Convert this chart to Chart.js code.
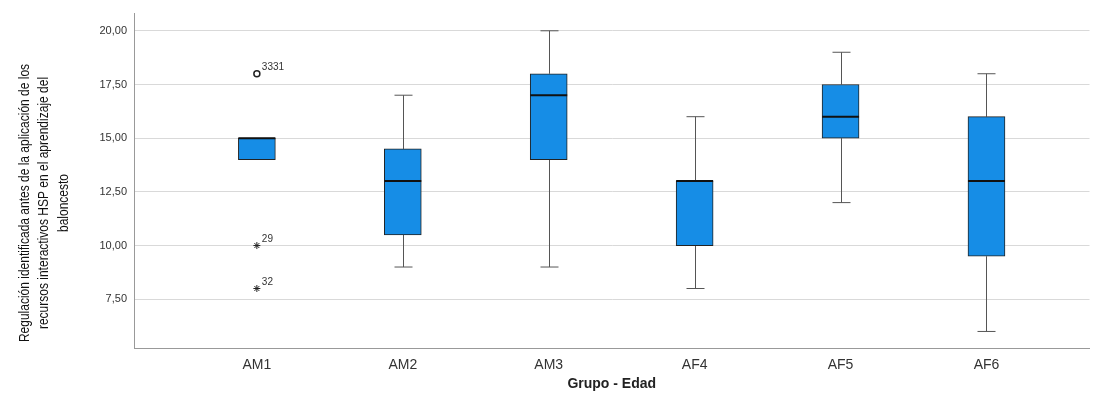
<!DOCTYPE html>
<html>
<head>
<meta charset="utf-8">
<script src="https://cdn.jsdelivr.net/npm/chart.js@4/dist/chart.umd.min.js"></script>
<style>
  body { margin: 0; background: #fff; }
  #wrap { width: 1095px; height: 393px; }
</style>
</head>
<body>
<div id="wrap"><canvas id="myChart" width="1095" height="393"></canvas></div>
<script>
// data
const groups = ["AM1", "AM2", "AM3", "AF4", "AF5", "AF6"];
const whiskerLow = [14, 9, 9, 8, 12, 6];
const q1 = [14, 10.5, 14, 10, 15, 9.5];
const median = [15, 13, 17, 13, 16, 13];
const q3 = [15, 14.5, 18, 13, 17.5, 16];
const whiskerHigh = [15, 17, 20, 16, 19, 18];

// outliers: circle = mild, star = extreme
const circleOutliers = [{ x: 1, y: 18, label: "3331" }];
const starOutliers = [{ x: 1, y: 10, label: "29" }, { x: 1, y: 8, label: "32" }];

const yTicks = [7.5, 10, 12.5, 15, 17.5, 20];
const yTitle = [
  "Regulación identificada antes de la aplicación de los",
  "recursos interactivos HSP en el aprendizaje del",
  "baloncesto"
];
const xTitle = "Grupo - Edad";

const boxColor = "#168de6";

const boxData = [];
for (let i = 0; i < groups.length; i++) {
  boxData.push({ x: i + 1, y: [q1[i], q3[i]] });
}

// whiskers under boxes, medians and labels on top
const boxplotExtras = {
  id: "boxplotExtras",
  beforeDatasetsDraw(chart) {
    const ctx = chart.ctx;
    const xs = chart.scales.x;
    const ys = chart.scales.y;
    ctx.save();
    ctx.strokeStyle = "#555";
    ctx.lineWidth = 1;
    for (let i = 0; i < groups.length; i++) {
      const cx = Math.round(xs.getPixelForValue(i + 1)) + 0.5;
      const yLo = ys.getPixelForValue(whiskerLow[i]);
      const yHi = ys.getPixelForValue(whiskerHigh[i]);
      const yQ1 = ys.getPixelForValue(q1[i]);
      const yQ3 = ys.getPixelForValue(q3[i]);
      if (whiskerHigh[i] > q3[i]) {
        ctx.beginPath();
        ctx.moveTo(cx, yHi); ctx.lineTo(cx, yQ3);
        ctx.moveTo(cx - 9, yHi); ctx.lineTo(cx + 9, yHi);
        ctx.stroke();
      }
      if (whiskerLow[i] < q1[i]) {
        ctx.beginPath();
        ctx.moveTo(cx, yLo); ctx.lineTo(cx, yQ1);
        ctx.moveTo(cx - 9, yLo); ctx.lineTo(cx + 9, yLo);
        ctx.stroke();
      }
    }
    ctx.restore();
  },
  afterDatasetsDraw(chart) {
    const ctx = chart.ctx;
    const xs = chart.scales.x;
    const ys = chart.scales.y;
    ctx.save();
    ctx.strokeStyle = "#111";
    ctx.lineWidth = 2;
    for (let i = 0; i < groups.length; i++) {
      const cx = xs.getPixelForValue(i + 1);
      const ym = ys.getPixelForValue(median[i]);
      ctx.beginPath();
      ctx.moveTo(cx - 18.5, ym); ctx.lineTo(cx + 18.5, ym);
      ctx.stroke();
    }
    // outlier case labels
    ctx.fillStyle = "#333";
    ctx.font = "10px 'Liberation Sans', Arial";
    ctx.textAlign = "left";
    ctx.textBaseline = "bottom";
    circleOutliers.concat(starOutliers).forEach(function (p) {
      const px = xs.getPixelForValue(p.x);
      const py = ys.getPixelForValue(p.y);
      ctx.fillText(p.label, px + 5, py - 1);
    });
    // y axis title, three lines rotated, condensed like the original
    ctx.fillStyle = "#111";
    ctx.font = "15px 'Liberation Sans', Arial";
    ctx.textAlign = "center";
    ctx.textBaseline = "middle";
    ctx.translate(44, 203);
    ctx.rotate(-Math.PI / 2);
    ctx.scale(0.8, 1);
    for (let j = 0; j < yTitle.length; j++) {
      ctx.fillText(yTitle[j], 0, (j - 1) * 19.5);
    }
    ctx.restore();
  }
};

new Chart(document.getElementById("myChart"), {
  type: "bar",
  data: {
    datasets: [
      {
        type: "bar",
        data: boxData,
        backgroundColor: boxColor,
        borderColor: "#222",
        borderWidth: 1,
        borderSkipped: false,
        barThickness: 37,
        grouped: false
      },
      {
        type: "scatter",
        data: circleOutliers,
        pointStyle: "circle",
        pointRadius: 3,
        pointBorderWidth: 1.5,
        pointBackgroundColor: "rgba(0,0,0,0)",
        pointBorderColor: "#222"
      },
      {
        type: "scatter",
        data: starOutliers,
        pointStyle: "star",
        pointRadius: 3.5,
        pointBorderWidth: 1,
        pointBorderColor: "#222"
      }
    ]
  },
  options: {
    responsive: false,
    animation: false,
    layout: { padding: { top: 11, left: 0, right: 0, bottom: 0 } },
    plugins: {
      legend: { display: false },
      tooltip: { enabled: false }
    },
    scales: {
      x: {
        type: "linear",
        offset: false,
        min: 0.158,
        max: 6.706,
        grid: { display: false, drawTicks: false },
        border: { display: true, color: "#999", width: 1 },
        afterBuildTicks(scale) {
          scale.ticks = groups.map((g, i) => ({ value: i + 1 }));
        },
        afterFit(scale) { scale.height = 45; },
        ticks: {
          autoSkip: false,
          maxRotation: 0,
          padding: 9,
          color: "#333",
          font: { family: "'Liberation Sans', Arial", size: 14 },
          callback: function (v) { return groups[Math.round(v) - 1]; }
        },
        title: {
          display: true,
          text: xTitle,
          color: "#222",
          font: { family: "'Liberation Sans', Arial", size: 14, weight: "bold" },
          padding: { top: 4, bottom: 0 }
        }
      },
      y: {
        min: 5.23,
        max: 20.8,
        afterBuildTicks(scale) {
          scale.ticks = yTicks.map(v => ({ value: v }));
        },
        afterFit(scale) { scale.width = 134; },
        grid: { color: "#d9d9d9", lineWidth: 1, drawTicks: false },
        border: { display: true, color: "#999", width: 1 },
        ticks: {
          padding: 7,
          color: "#333",
          font: { family: "'Liberation Sans', Arial", size: 11 },
          callback: function (v) { return v.toFixed(2).replace(".", ","); }
        }
      }
    }
  },
  plugins: [boxplotExtras]
});
</script>
</body>
</html>
